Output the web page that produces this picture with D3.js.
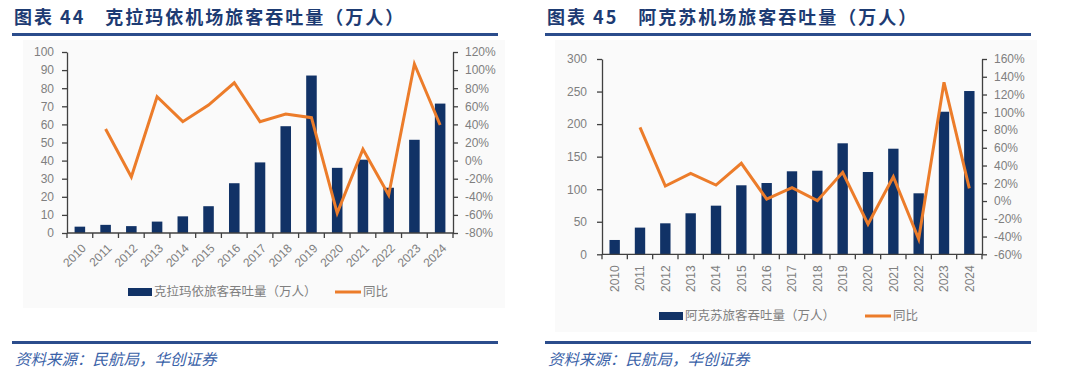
<!DOCTYPE html>
<html><head><meta charset="utf-8">
<script src="https://cdn.jsdelivr.net/npm/d3@7/dist/d3.min.js"></script>
<style>
body{margin:0;background:#fff;}
svg{display:block;}
</style></head>
<body>
<svg id="c" width="1080" height="381"></svg>
<script>
const years = ["2010","2011","2012","2013","2014","2015","2016","2017","2018","2019","2020","2021","2022","2023","2024"];
const klyPax = [3.5,4.5,3.8,6.3,9.2,14.8,27.5,39,59,87,36,40.5,25,51.5,71.5];
const klyYoy = [null,35,-18,70.6,43,61.4,86,43,51.5,47.4,-58,12.5,-38,106.7,39.3];
const aksPax = [22,41,47.6,63,74.7,106,109.5,127.5,128.4,170.5,126.4,162.2,93.7,219,250.8];
const aksYoy = [null,83,16.9,31.2,18,42.5,2.2,15,0.4,32.3,-26,27.4,-42.8,133.7,14.3];
const klyLeftTicks = [0,10,20,30,40,50,60,70,80,90,100];
const klyRightTicks = [-80,-60,-40,-20,0,20,40,60,80,100,120];
const aksLeftTicks = [0,50,100,150,200,250,300];
const aksRightTicks = [-60,-40,-20,0,20,40,60,80,100,120,140,160];
const titles = ["图表 44\u3000克拉玛依机场旅客吞吐量（万人）","图表 45\u3000阿克苏机场旅客吞吐量（万人）"];
const legendNames = ["克拉玛依旅客吞吐量（万人）","阿克苏旅客吞吐量（万人）"];
const lineName = "同比";
const source = "资料来源：民航局，华创证券";

const svg = d3.select("#c");
const BAR = "#113266", LINE = "#ec7c2a", AX = "#404040", TXT = "#7f7f7f";
const FONT = "'Liberation Sans', Arial, sans-serif";
const CJK = "'Noto Sans CJK SC', sans-serif";

function panel(cfg){
  const g = svg.append("g");
  g.append("rect").attr("x",cfg.bg[0]).attr("y",cfg.bg[1]).attr("width",cfg.bg[2]).attr("height",cfg.bg[3]).attr("fill","#fafafa");
  g.append("text").attr("x",cfg.hx).attr("y",24).text(cfg.title)
    .attr("font-family",CJK).attr("font-weight",700).attr("font-size",18)
    .attr("letter-spacing",2).attr("fill","#1d3b73");
  g.append("rect").attr("x",cfg.hx-2).attr("y",33).attr("width",486).attr("height",3).attr("fill","#2b4d8c");
  g.append("rect").attr("x",cfg.hx-2).attr("y",341).attr("width",486).attr("height",3).attr("fill","#2b4d8c");
  g.append("text").attr("x",cfg.hx+1).attr("y",365).text(source)
    .attr("font-family",CJK).attr("font-style","italic").attr("font-size",15.5)
    .attr("fill","#3a62a8");

  const x = d3.scaleBand().domain(years).range([cfg.x0,cfg.x1]).padding(0);
  const yL = d3.scaleLinear().domain([cfg.lt[0],cfg.lt[cfg.lt.length-1]]).range([cfg.yb,cfg.yt]);
  const yR = d3.scaleLinear().domain([cfg.rt[0],cfg.rt[cfg.rt.length-1]]).range([cfg.yb,cfg.yt]);
  const bw = x.bandwidth()*0.41;

  g.selectAll("rect.bar").data(cfg.pax).join("rect").attr("class","bar")
    .attr("x",(d,i)=>x(years[i])+x.bandwidth()/2-bw/2)
    .attr("y",d=>yL(d)).attr("width",bw).attr("height",d=>yL(0)-yL(d))
    .attr("fill",BAR);

  const pts = cfg.yoy.map((v,i)=>[years[i],v]).filter(d=>d[1]!==null);
  g.append("path").datum(pts)
    .attr("d",d3.line().x(d=>x(d[0])+x.bandwidth()/2).y(d=>yR(d[1])))
    .attr("fill","none").attr("stroke",LINE).attr("stroke-width",3).attr("stroke-linejoin","miter");

  function style(a){
    a.selectAll("path,line").attr("stroke",AX).attr("stroke-width",1.3);
    a.selectAll("text").attr("fill",TXT).attr("font-family",FONT).attr("font-size",12);
  }
  const la = g.append("g").attr("transform",`translate(${cfg.x0},0)`)
    .call(d3.axisLeft(yL).tickValues(cfg.lt).tickSize(5).tickSizeOuter(0).tickPadding(cfg.lpad));
  style(la);
  const ra = g.append("g").attr("transform",`translate(${cfg.x1},0)`)
    .call(d3.axisRight(yR).tickValues(cfg.rt).tickSize(5).tickSizeOuter(0).tickPadding(7).tickFormat(d=>d+"%"));
  style(ra);
  const xa = g.append("g").attr("transform",`translate(0,${cfg.yb})`);
  xa.append("line").attr("x1",cfg.x0).attr("x2",cfg.x1).attr("stroke",AX).attr("stroke-width",1.3);
  const bounds = years.map(d=>x(d)).concat([cfg.x1]);
  xa.selectAll("line.t").data(bounds).join("line").attr("class","t")
    .attr("x1",d=>d).attr("x2",d=>d).attr("y1",0).attr("y2",5).attr("stroke",AX).attr("stroke-width",1.3);
  xa.selectAll("text").data(years).join("text")
    .attr("transform",d=>`translate(${x(d)+x.bandwidth()/2+cfg.xlo[0]},${cfg.xlo[1]}) rotate(${cfg.rot})`)
    .attr("text-anchor","end").attr("dy","0.35em").text(d=>d)
    .attr("fill",TXT).attr("font-family",FONT).attr("font-size",12);

  const lg = g.append("g");
  lg.append("rect").attr("x",cfg.leg[0]).attr("y",cfg.leg[1]-4).attr("width",24).attr("height",8).attr("fill",BAR);
  lg.append("text").attr("x",cfg.leg[0]+26).attr("y",cfg.leg[1]).attr("dy","0.35em").text(cfg.legName)
    .attr("font-family",CJK).attr("font-size",12.5).attr("fill",TXT);
  lg.append("line").attr("x1",cfg.leg[2]).attr("x2",cfg.leg[2]+26).attr("y1",cfg.leg[1]).attr("y2",cfg.leg[1])
    .attr("stroke",LINE).attr("stroke-width",3);
  lg.append("text").attr("x",cfg.leg[2]+28).attr("y",cfg.leg[1]).attr("dy","0.35em").text(lineName)
    .attr("font-family",CJK).attr("font-size",12.5).attr("fill",TXT);
}

panel({hx:14,title:titles[0],bg:[23,40,482,268],x0:67,x1:453,yt:52,yb:233,
  lt:klyLeftTicks,rt:klyRightTicks,pax:klyPax,yoy:klyYoy,lpad:8,
  xlo:[4,13],rot:-45,leg:[128,292,335],legName:legendNames[0]});
panel({hx:547,title:titles[1],bg:[555,40,482,292],x0:602,x1:982,yt:59,yb:254.3,
  lt:aksLeftTicks,rt:aksRightTicks,pax:aksPax,yoy:aksYoy,lpad:10,
  xlo:[0,11],rot:-90,leg:[659,316,865],legName:legendNames[1]});
</script>
</body></html>
